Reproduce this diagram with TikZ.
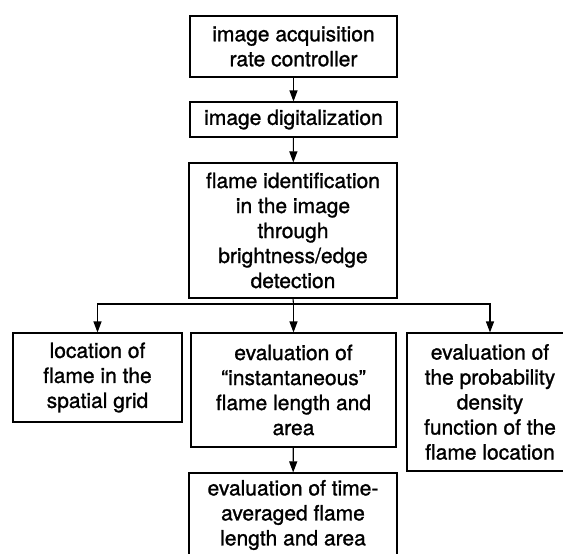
\documentclass[tikz,border=0pt]{standalone}
\usepackage{fontspec}
\setmainfont{TeX Gyre Heros}[FakeBold=1.2]
\usetikzlibrary{arrows.meta}
\tikzset{
  stepbox/.style={draw, line width=1.1pt, rectangle, inner sep=0pt, align=center,
    font=\fontsize{21}{25}\selectfont},
  arr/.style={line width=1.1pt, -{Triangle[length=11pt,width=8pt]}},
  link/.style={line width=1.1pt}
}
\begin{document}
\begin{tikzpicture}[x=1pt,y=-1pt]
\useasboundingbox (0,0) rectangle (563,554);
\fill[white] (0,0) rectangle (563,554);
\begin{scope}
\clip (0,0) rectangle (563,554);
\node[stepbox, minimum width=207pt, minimum height=61pt] (acq) at (293.5,46.5)
  {image acquisition\\rate controller};
\node[stepbox, minimum width=207pt, minimum height=35pt] (dig) at (293.5,119.5)
  {image digitalization};
\node[stepbox, minimum width=208pt, minimum height=135pt] (ident) at (293,230.5)
  {flame identification\\in the image\\through\\brightness/edge\\detection};
\node[stepbox, minimum width=169pt, minimum height=89pt] (loc) at (97.5,377.5)
  {location of\\flame in the\\spatial grid};
\node[stepbox, minimum width=205pt, minimum height=114pt] (inst) at (293.5,390)
  {evaluation of\\``instantaneous''\\flame length and\\area};
\node[stepbox, minimum width=166pt, minimum height=138pt] (pdf) at (490,402)
  {evaluation of\\the probability\\density\\function of the\\flame location};
\node[stepbox, minimum width=208pt, minimum height=84pt] (avg) at (293,515)
  {evaluation of time-\\averaged flame\\length and area};

\coordinate (split) at (293.5,304);
\draw[arr] (acq) -- (dig);
\draw[arr] (dig) -- (ident);
\draw[link] (ident.south) -- (split);
\draw[arr] (split) -- (inst.north);
\draw[arr] (split) -| (loc.north);
\draw[arr] (split) -| (pdf.north);
\draw[arr] (inst) -- (avg);
\end{scope}
\end{tikzpicture}
\end{document}
